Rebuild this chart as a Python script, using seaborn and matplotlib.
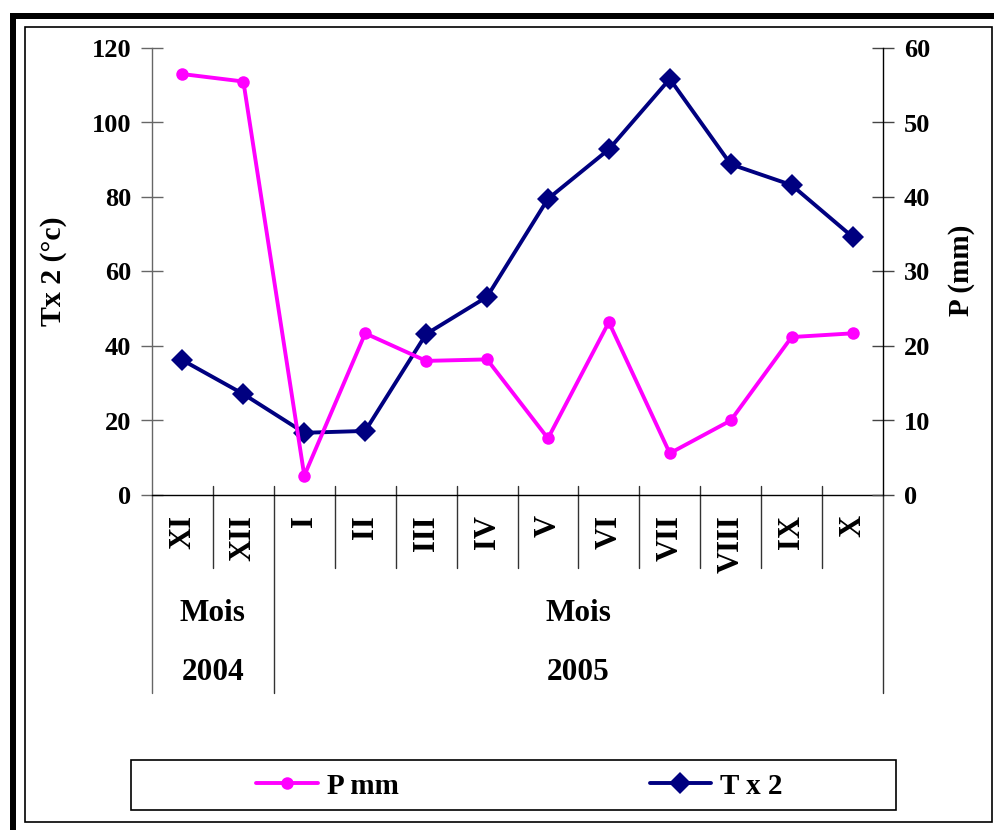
import numpy as np
import pandas as pd
import matplotlib
matplotlib.use("Agg")
import matplotlib.pyplot as plt
from matplotlib.patches import Rectangle
import seaborn as sns

# Monthly series, Nov 2004 - Oct 2005
months = ["XI", "XII", "I", "II", "III", "IV", "V", "VI", "VII", "VIII", "IX", "X"]
years = ["2004", "2005"]
months_per_year = [2, 10]
group_label = "Mois"
p_mm = [56.5, 55.5, 2.6, 21.7, 18.0, 18.2, 7.6, 23.2, 5.6, 10.0, 21.2, 21.7]
t_x2 = [36.2, 27.1, 16.7, 17.2, 43.2, 53.2, 79.5, 92.8, 111.7, 88.8, 83.2, 69.3]
left_ticks = [0, 20, 40, 60, 80, 100, 120]
right_ticks = [0, 10, 20, 30, 40, 50, 60]

sns.set_theme(style="ticks")
plt.rcParams["font.family"] = ["Liberation Serif", "DejaVu Serif"]
plt.rcParams["font.weight"] = "bold"
plt.rcParams["text.color"] = "black"
plt.rcParams["axes.labelcolor"] = "black"
plt.rcParams["xtick.color"] = "black"
plt.rcParams["ytick.color"] = "black"
plt.rcParams["legend.labelcolor"] = "black"

W, H = 995, 830
fig = plt.figure(figsize=(W / 100, H / 100), dpi=100)
fig.patch.set_facecolor("white")

ax = fig.add_axes([152 / W, (H - 495) / H, (883 - 152) / W, (495 - 48) / H])
ax2 = ax.twinx()

df = pd.DataFrame({"mois": months, "P mm": p_mm, "T x 2": t_x2})

sns.lineplot(data=df, x="mois", y="T x 2", ax=ax, sort=False, color="#000080",
             linewidth=2.8, marker="D", markersize=11, markeredgewidth=0,
             label="T x 2")
sns.lineplot(data=df, x="mois", y="P mm", ax=ax2, sort=False, color="#FF00FF",
             linewidth=2.8, marker="o", markersize=9, markeredgewidth=0,
             label="P mm")
for a in (ax, ax2):
    if a.get_legend() is not None:
        a.get_legend().remove()

# Scales
ax.set_xlim(-0.5, len(months) - 0.5)
ax.set_ylim(left_ticks[0], left_ticks[-1])
ax2.set_ylim(right_ticks[0], right_ticks[-1])
ax.set_yticks(left_ticks)
ax2.set_yticks(right_ticks)

# Spines
for a in (ax, ax2):
    a.spines["top"].set_visible(False)
ax.spines["right"].set_visible(False)
ax2.spines["left"].set_visible(False)
ax2.spines["bottom"].set_visible(False)
ax.spines["left"].set_color("#666666")
ax.spines["bottom"].set_color("black")
ax2.spines["right"].set_color("black")
for s in (ax.spines["left"], ax.spines["bottom"], ax2.spines["right"]):
    s.set_linewidth(1.0)

# Ticks
ax.tick_params(axis="y", left=True, direction="inout", length=16, width=1,
               color="#666666", pad=7, labelsize=19, labelcolor="black")
ax2.tick_params(axis="y", right=True, direction="inout", length=16, width=1,
                color="#444444", pad=7, labelsize=19, labelcolor="black")
ax.set_xticks(range(len(months)))
ax.set_xticklabels(months)
ax.tick_params(axis="x", bottom=True, length=0, pad=14.5, labelsize=22,
               labelrotation=90, labelcolor="black")
ax.set_xlabel("")

# Axis titles
ax.set_ylabel("Tx 2 (°c)", fontsize=21.5, fontweight="bold", va="center",
              color="black")
ax.yaxis.set_label_coords(-0.1354, 0.5)
ax2.set_ylabel("P (mm)", fontsize=21, fontweight="bold", va="center",
               color="black")
ax2.yaxis.set_label_coords(1.108, 0.503)

# Category table below the x axis: month cells, then group and year cells
trans = ax.get_xaxis_transform()
bounds = np.arange(len(months) + 1) - 0.5
group_edges = np.concatenate([[0], np.cumsum(months_per_year)]) - 0.5
for b in bounds:
    if b in group_edges:
        y_top = 0.0 if b in (bounds[0], bounds[-1]) else 0.02
        ax.plot([b, b], [y_top, -0.443], transform=trans, clip_on=False,
                color="#333333" if b != bounds[0] else "#666666", lw=1.0)
    else:
        ax.plot([b, b], [0.02, -0.163], transform=trans, clip_on=False,
                color="#333333", lw=1.0)

start = 0
for year, n in zip(years, months_per_year):
    centre = start + n / 2 - 0.5
    ax.text(centre, -0.264, group_label, transform=trans, ha="center",
            va="center", fontsize=22.5, fontweight="bold", color="black")
    ax.text(centre, -0.398, year, transform=trans, ha="center",
            va="center", fontsize=22.5, fontweight="bold", color="black")
    start += n

# Legend in a framed box under the chart
handles = [ax2.lines[0], ax.lines[0]]
fig.legend(handles, ["P mm", "T x 2"], ncol=2, loc="center",
           bbox_to_anchor=(519.5 / W, (H - 786) / H), frameon=False,
           prop={"size": 21, "weight": "bold"}, handlelength=2.1,
           handletextpad=0.32, columnspacing=8.6, numpoints=1,
           labelcolor="black")
fig.add_artist(Rectangle((131 / W, (H - 810) / H), 765 / W, 50 / H,
                         transform=fig.transFigure, fill=False,
                         edgecolor="black", lw=1.2))

# Page frame
fig.add_artist(Rectangle((25 / W, (H - 822) / H), (992 - 25) / W, (822 - 27) / H,
                         transform=fig.transFigure, fill=False,
                         edgecolor="black", lw=1.2))
fig.add_artist(Rectangle((10 / W, (H - 19) / H), (W - 10) / W, 6 / H,
                         transform=fig.transFigure, facecolor="black",
                         edgecolor="none"))
fig.add_artist(Rectangle((10 / W, 0), 6 / W, (H - 13) / H,
                         transform=fig.transFigure, facecolor="black",
                         edgecolor="none"))

fig.savefig("out.png", dpi=100)
